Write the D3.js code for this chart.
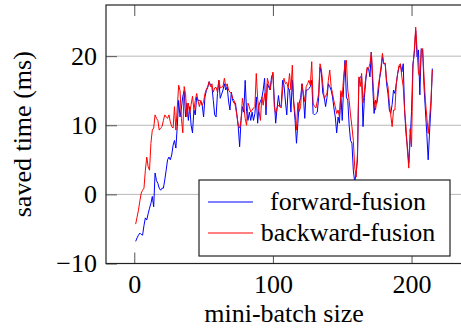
<!DOCTYPE html>
<html>
<head>
<meta charset="utf-8">
<script src="https://cdn.jsdelivr.net/npm/d3@7"></script>
<style>
    body { margin: 0; background: #fff; }
</style>
</head>
<body>
<svg width="461" height="330" font-family="Liberation Serif"></svg>
<script>
// mini-batch size 1..215
var batchSizes = d3.range(1, 216);

var forwardFusion = [
    -6.8, -6.3, -5.9, -5.6, -5.8, -5.9, -4.5, -3.4, -3.7, -2.8,
    -2.0, -1.3, -0.3, -1.8, 3.1, 2.0, 1.6, 0.9, 0.6, 0.9,
    0.9, 2.1, 3.5, 5.0, 5.4, 5.0, 5.7, 7.1, 7.8, 6.7,
    9.8, 13.6, 11.2, 12.5, 14.2, 15.0, 11.2, 13.2, 10.7, 12.7,
    10.0, 8.9, 12.2, 11.5, 14.1, 13.6, 13.6, 13.4, 12.9, 11.2,
    14.1, 15.0, 15.5, 16.3, 15.8, 15.6, 13.6, 11.5, 11.2, 14.6,
    16.5, 13.9, 14.5, 15.1, 16.0, 15.1, 15.6, 13.5, 12.2, 14.8,
    13.6, 13.2, 13.2, 11.5, 9.8, 6.9, 10.7, 12.7, 11.9, 16.5,
    12.0, 10.7, 11.9, 10.7, 11.9, 10.7, 11.7, 14.1, 10.3, 12.9,
    13.5, 13.9, 15.1, 16.8, 11.5, 16.0, 15.5, 15.1, 17.0, 17.5,
    13.6, 10.3, 12.5, 14.3, 12.7, 12.9, 16.5, 15.8, 13.5, 11.5,
    15.4, 15.1, 11.9, 16.5, 13.2, 10.7, 7.4, 10.3, 13.2, 14.0,
    16.0, 14.1, 11.0, 15.1, 15.1, 15.3, 15.6, 16.5, 11.7, 11.5,
    11.7, 11.9, 14.0, 18.4, 17.5, 14.6, 14.1, 12.7, 14.0, 16.0,
    15.6, 15.1, 14.1, 12.5, 11.2, 8.9, 11.2, 10.3, 14.6, 10.7,
    15.6, 19.4, 14.1, 13.6, 10.0, 7.8, 7.4, 3.5, 1.8, 3.0,
    5.0, 16.5, 17.0, 17.0, 9.8, 14.0, 16.5, 18.2, 18.2, 17.0,
    20.6, 15.6, 11.7, 13.6, 13.2, 14.6, 16.8, 18.0, 19.9, 18.9,
    18.9, 16.0, 14.6, 12.2, 11.7, 13.0, 15.1, 14.6, 16.0, 17.5,
    18.4, 18.7, 17.7, 18.9, 12.2, 8.8, 6.9, 4.5, 7.8, 12.0,
    18.9, 20.4, 23.7, 19.9, 20.9, 14.4, 21.1, 20.9, 15.6, 12.2,
    8.8, 5.0, 9.0, 12.7, 18.2
];

var backwardFusion = [
    -4.3, -3.3, -2.3, -1.0, 0.2, 0.6, 0.9, 3.5, 5.4, 4.0,
    3.5, 7.4, 9.3, 9.6, 11.5, 11.0, 10.7, 9.3, 9.6, 9.8,
    10.7, 11.5, 11.2, 11.0, 11.5, 10.5, 9.8, 9.6, 12.7, 9.3,
    12.5, 15.8, 15.0, 11.0, 8.9, 15.6, 14.5, 11.2, 13.2, 11.7,
    13.0, 14.2, 12.2, 13.6, 14.6, 13.5, 12.7, 13.6, 12.9, 13.4,
    14.6, 15.2, 15.6, 16.3, 15.6, 16.0, 14.8, 15.4, 15.5, 14.8,
    16.5, 15.4, 15.5, 15.6, 16.8, 15.6, 16.0, 15.1, 14.8, 14.6,
    13.9, 13.6, 12.7, 11.5, 10.0, 9.6, 10.7, 13.9, 12.7, 11.0,
    10.0, 13.2, 12.7, 11.9, 12.2, 12.5, 12.7, 17.5, 13.8, 12.0,
    10.7, 14.1, 12.9, 14.6, 12.7, 16.8, 16.0, 15.1, 16.5, 17.7,
    12.7, 11.7, 12.5, 12.9, 12.7, 12.5, 15.1, 16.8, 16.0, 16.2,
    15.4, 17.5, 15.1, 18.7, 13.4, 11.7, 9.3, 13.3, 12.0, 12.7,
    16.0, 14.6, 13.4, 15.6, 16.0, 16.5, 15.8, 19.2, 13.2, 12.7,
    12.5, 13.5, 14.6, 18.9, 18.0, 16.0, 13.9, 14.2, 14.6, 16.5,
    18.0, 15.6, 14.6, 13.5, 12.7, 11.7, 12.2, 11.2, 15.0, 14.1,
    17.0, 18.9, 19.4, 15.1, 13.6, 11.5, 9.8, 7.8, 4.0, 2.5,
    5.9, 17.0, 15.6, 17.5, 13.2, 15.0, 17.0, 18.4, 18.2, 18.9,
    20.6, 17.0, 13.6, 12.2, 13.6, 15.6, 17.0, 18.5, 20.4, 18.9,
    19.0, 16.5, 15.6, 13.2, 11.5, 9.8, 12.2, 12.2, 16.0, 17.5,
    18.7, 18.9, 17.0, 15.6, 12.2, 9.8, 6.4, 3.8, 9.5, 6.9,
    18.4, 20.9, 24.2, 20.9, 17.5, 17.0, 20.9, 21.1, 17.0, 13.6,
    11.2, 8.8, 11.0, 13.6, 18.0
];

var xTicks = [0, 100, 200];
var yTicks = [-10, 0, 10, 20];

var series = [
    { name: 'forward-fusion', color: '#0000ff', values: forwardFusion },
    { name: 'backward-fusion', color: '#ff0000', values: backwardFusion }
];

var serif = 'Liberation Serif';

var plot = { left: 106, right: 462, top: 5, bottom: 263.5 };

var x = d3.scaleLinear()
    .domain([-20.4, 236.4])
    .range([plot.left, plot.right]);

var y = d3.scaleLinear()
    .domain([-10, 27.4])
    .range([plot.bottom, plot.top]);

var svg = d3.select('svg');

/////////////////////////////
// GRID
/////////////////////////////
svg.append('g')
    .attr('class', 'grid')
    .selectAll('line')
    .data(yTicks)
    .enter()
    .append('line')
        .attr('x1', plot.left)
        .attr('x2', plot.right)
        .attr('y1', (d) => y(d))
        .attr('y2', (d) => y(d))
        .attr('stroke', '#b8b8b8')
        .attr('stroke-width', 1);

/////////////////////////////
// LINES
/////////////////////////////
var line = d3.line()
    .x((d, i) => x(batchSizes[i]))
    .y((d) => y(d));

svg.append('g')
    .attr('class', 'series')
    .selectAll('path')
    .data(series)
    .enter()
    .append('path')
        .attr('d', (s) => line(s.values))
        .attr('fill', 'none')
        .attr('stroke', (s) => s.color)
        .attr('stroke-width', 1)
        .attr('stroke-linejoin', 'round');

/////////////////////////////
// AXES (pgfplots style: ticks inside on all sides)
/////////////////////////////
var tickLen = 11;

var xAxis = svg.append('g')
    .attr('transform', 'translate(0,' + plot.bottom + ')')
    .call(d3.axisBottom(x).tickValues(xTicks).tickSizeInner(-tickLen).tickSizeOuter(0).tickPadding(11));

var xAxisTop = svg.append('g')
    .attr('transform', 'translate(0,' + plot.top + ')')
    .call(d3.axisTop(x).tickValues(xTicks).tickSizeInner(-tickLen).tickSizeOuter(0).tickFormat(''));

var yAxis = svg.append('g')
    .attr('transform', 'translate(' + plot.left + ',0)')
    .call(d3.axisLeft(y).tickValues(yTicks).tickSizeInner(-tickLen).tickSizeOuter(0).tickPadding(9));

[xAxis, xAxisTop, yAxis].forEach((a) => {
    a.attr('font-family', serif).attr('font-size', 26);
    a.select('.domain').remove();
    a.selectAll('.tick line').attr('stroke', '#555').attr('stroke-width', 1);
    a.selectAll('.tick text').attr('fill', '#000');
});

svg.append('rect')
    .attr('x', plot.left)
    .attr('y', plot.top)
    .attr('width', plot.right - plot.left)
    .attr('height', plot.bottom - plot.top)
    .attr('fill', 'none')
    .attr('stroke', '#222')
    .attr('stroke-width', 1.2);

/////////////////////////////
// LABELS
/////////////////////////////
var labels = svg.append('g')
    .attr('font-family', serif)
    .attr('font-size', 26);

labels.append('text')
    .attr('x', (plot.left + plot.right) / 2)
    .attr('y', 322)
    .attr('text-anchor', 'middle')
    .text('mini-batch size');

labels.append('text')
    .attr('transform', 'translate(31,' + ((plot.top + plot.bottom) / 2) + ') rotate(-90)')
    .attr('text-anchor', 'middle')
    .text('saved time (ms)');

/////////////////////////////
// LEGEND
/////////////////////////////
var legend = svg.append('g')
    .attr('class', 'legend')
    .attr('font-family', serif)
    .attr('font-size', 26);

legend.append('rect')
    .attr('x', 199)
    .attr('y', 180)
    .attr('width', 251)
    .attr('height', 76)
    .attr('fill', '#fff')
    .attr('stroke', '#222')
    .attr('stroke-width', 1.2);

var entry = legend.selectAll('.entry')
    .data(series)
    .enter()
    .append('g')
        .attr('class', 'entry')
        .attr('transform', (d, i) => 'translate(0,' + (202 + i * 31) + ')');

entry.append('line')
    .attr('x1', 208)
    .attr('x2', 253)
    .attr('stroke', (d) => d.color)
    .attr('stroke-width', 1);

entry.append('text')
    .attr('x', 348)
    .attr('y', 8)
    .attr('text-anchor', 'middle')
    .text((d) => d.name);
</script>
</body>
</html>
